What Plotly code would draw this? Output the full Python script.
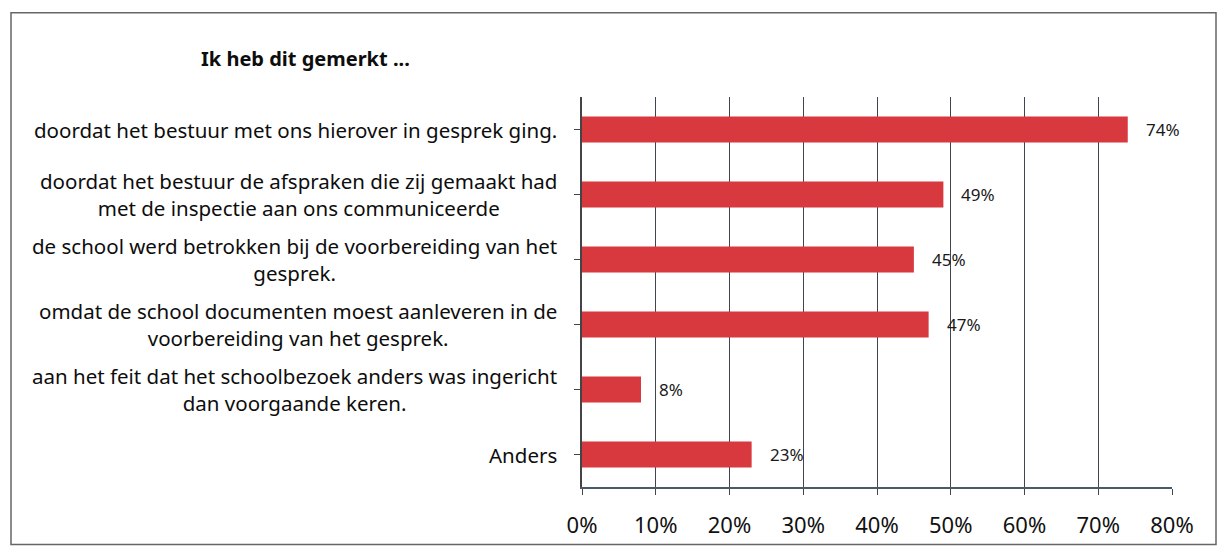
import plotly.graph_objects as go

categories = [
    "doordat het bestuur met ons hierover in gesprek ging.",
    "doordat het bestuur de afspraken die zij gemaakt had<br>met de inspectie aan ons communiceerde",
    "de school werd betrokken bij de voorbereiding van het<br>gesprek.",
    "omdat de school documenten moest aanleveren in de<br>voorbereiding van het gesprek.",
    "aan het feit dat het schoolbezoek anders was ingericht<br>dan voorgaande keren.",
    "Anders",
]
values = [0.74, 0.49, 0.45, 0.47, 0.08, 0.23]
value_labels = ["74%", "49%", "45%", "47%", "8%", "23%"]
title_text = "Ik heb dit gemerkt ..."

FONT = "Noto Sans"
BAR = "#d8393f"

fig = go.Figure()
fig.add_trace(go.Bar(
    x=values, y=list(range(len(categories))), orientation="h",
    marker=dict(color=BAR, line=dict(width=0)), width=0.4,
    hoverinfo="skip",
))

L, R, T, B = 582, 47, 97, 61
W, H = 1219, 551
pw, ph = W - L - R, H - T - B

def px_x(px):
    return (px - L) / pw

def px_y(py):
    return (H - B - py) / ph

annotations = []
for i, c in enumerate(categories):
    annotations.append(dict(
        x=0, xref="paper", y=i, yref="y", text=c, showarrow=False,
        xanchor="right", yanchor="middle", align="center", xshift=-23,
        font=dict(family=FONT, size=20.5, color="#0d0d0d"),
    ))
for i, (v, t) in enumerate(zip(values, value_labels)):
    annotations.append(dict(
        x=v, xref="x", y=i, yref="y", text=t, showarrow=False,
        xanchor="left", yanchor="middle", xshift=16,
        font=dict(family=FONT, size=17, color="#1a1a1a"),
    ))
annotations.append(dict(
    x=px_x(305), xref="paper", y=px_y(58), yref="paper", text="<b>" + title_text + "</b>",
    showarrow=False, xanchor="center", yanchor="middle",
    font=dict(family=FONT, size=20, color="#0d0d0d"),
))

fig.update_layout(
    width=W, height=H,
    margin=dict(l=L, r=R, t=T, b=B, pad=0),
    paper_bgcolor="white", plot_bgcolor="white",
    showlegend=False,
    annotations=annotations,
    shapes=[dict(type="rect", xref="paper", yref="paper",
                 x0=px_x(11), x1=px_x(1216), y0=px_y(548), y1=px_y(12),
                 line=dict(color="#666", width=1.5), fillcolor="rgba(0,0,0,0)")],
    xaxis=dict(
        range=[0, 0.8], dtick=0.1, tickformat=".0%",
        showgrid=True, gridcolor="#3f4650", gridwidth=1,
        showline=True, linecolor="#4a5a6a", linewidth=1.5,
        ticks="outside", ticklen=6, tickcolor="#444",
        ticklabelstandoff=12,
        tickfont=dict(family=FONT, size=22, color="#111"),
        zeroline=False, fixedrange=True,
    ),
    yaxis=dict(
        range=[5.5, -0.5], tickmode="array", tickvals=list(range(len(categories))),
        showticklabels=False, tickson="boundaries",
        ticks="outside", ticklen=6, tickcolor="#444",
        showline=True, linecolor="#444", linewidth=1.5,
        showgrid=False, zeroline=False, fixedrange=True,
    ),
)

fig.write_html(
    "out.html",
    config={"displayModeBar": False},
    post_script="document.body.style.margin='0';document.body.style.overflow='hidden';",
)
